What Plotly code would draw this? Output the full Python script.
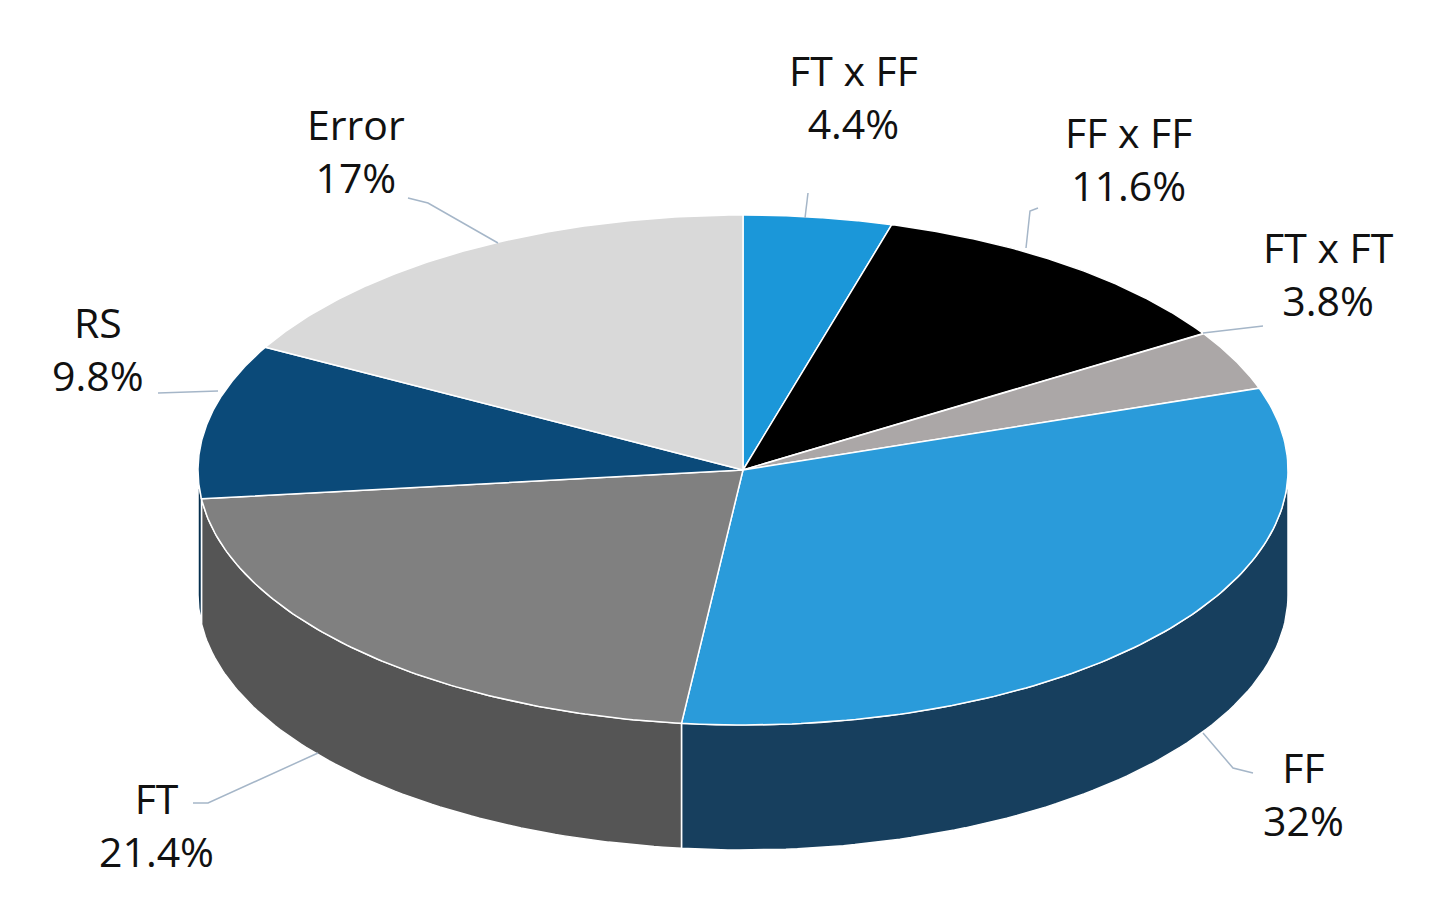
import numpy as np
import plotly.graph_objects as go

labels = ["FT x FF", "FF x FF", "FT x FT", "FF", "FT", "RS", "Error"]
values = [4.4, 11.6, 3.8, 32, 21.4, 9.8, 17]
value_text = ["4.4%", "11.6%", "3.8%", "32%", "21.4%", "9.8%", "17%"]
top_colors = ["#1b97d9", "#000000", "#aba7a7", "#2a9bda", "#808080", "#0b4a79", "#d9d9d9"]
side_colors = ["#10557f", "#000000", "#6e6b6b", "#173f5e", "#555555", "#06304f", "#8c8c8c"]

cx, cy, rx, ry, depth = 735, 462, 545, 255, 125

def pt(t, dy=0):
    t = np.radians(t)
    return cx + rx * np.sin(t), cy - ry * np.cos(t) + dy

fig = go.Figure()
cum = np.concatenate([[0], np.cumsum(values)]) / sum(values) * 360

for i in range(len(values)):
    a0, a1 = max(cum[i], 90), min(cum[i + 1], 270)
    if a1 <= a0:
        continue
    ts = np.linspace(a0, a1, 80)
    xt, yt = pt(ts)
    xb, yb = pt(ts[::-1], depth)
    fig.add_trace(go.Scatter(x=np.r_[xt, xb, xt[0]], y=np.r_[yt, yb, yt[0]], fill="toself",
                             fillcolor=side_colors[i], mode="lines",
                             line=dict(color="white", width=1.5), hoverinfo="skip"))
for i in range(len(values)):
    ts = np.linspace(cum[i], cum[i + 1], 120)
    x, y = pt(ts)
    fig.add_trace(go.Scatter(x=np.r_[cx, x, cx], y=np.r_[cy, y, cy], fill="toself",
                             fillcolor=top_colors[i], mode="lines",
                             line=dict(color="white", width=1.5), hoverinfo="skip"))

label_pos = [(845, 88), (1120, 150), (1320, 265), (1295, 785), (148, 816), (90, 340), (348, 142)]
leaders = [
    [(800, 185), (797, 210)],
    [(1030, 200), (1022, 203), (1018, 240)],
    [(1255, 318), (1195, 325)],
    [(1245, 765), (1225, 760), (1195, 725)],
    [(185, 795), (200, 795), (310, 745)],
    [(150, 385), (210, 383)],
    [(400, 190), (420, 195), (490, 235)],
]
for pts in leaders:
    fig.add_trace(go.Scatter(x=[p[0] for p in pts], y=[p[1] for p in pts], mode="lines",
                             line=dict(color="#a5b6c8", width=1.5), hoverinfo="skip"))
for lab, vt, (x, y) in zip(labels, value_text, label_pos):
    fig.add_annotation(x=x, y=y, text=f"{lab}<br>{vt}", showarrow=False,
                       font=dict(family="Open Sans", size=41, color="#111"))

fig.update_layout(width=1433, height=910, showlegend=False, plot_bgcolor="white",
                  paper_bgcolor="white", margin=dict(l=0, r=0, t=0, b=0),
                  xaxis=dict(range=[0, 1433], visible=False),
                  yaxis=dict(range=[910, 0], visible=False))
fig.write_html("out.html")
